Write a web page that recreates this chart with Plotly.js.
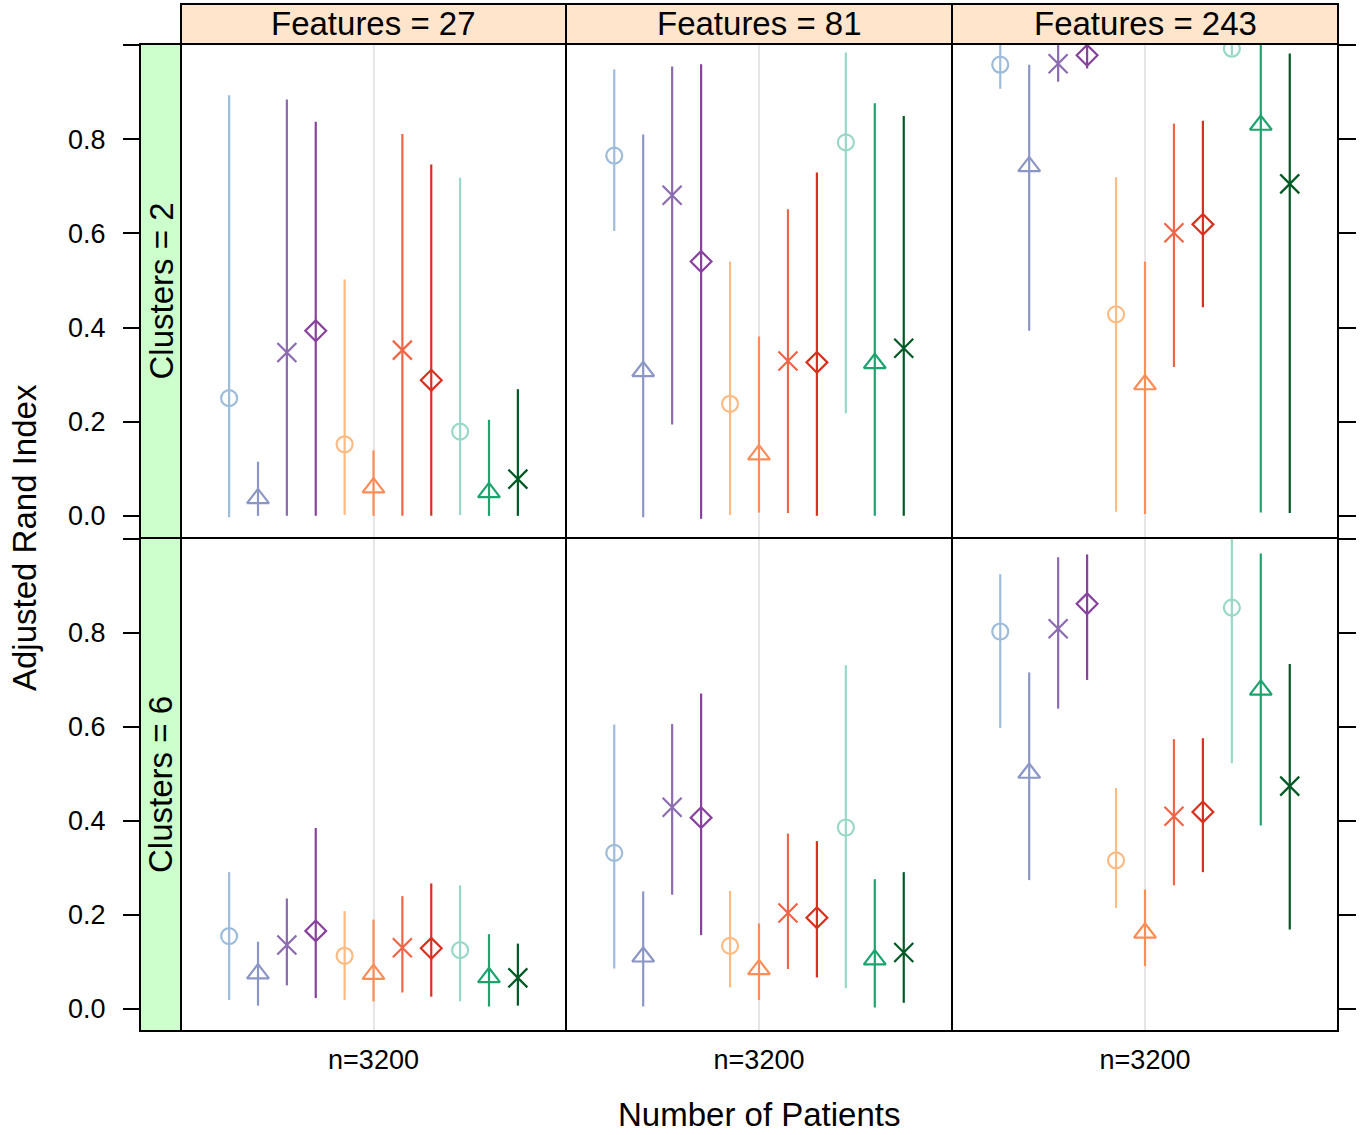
<!DOCTYPE html>
<html>
<head>
<meta charset="utf-8">
<script src="https://cdn.plot.ly/plotly-3.0.1.min.js"></script>
<style>html,body{margin:0;padding:0;background:#fff;}#chart{width:1362px;height:1135px;}</style>
</head>
<body>
<div id="chart"></div>
<script>
// ---- categories / labels ----
const featureLevels = ['Features = 27', 'Features = 81', 'Features = 243'];
const clusterLevels = ['Clusters = 2', 'Clusters = 6'];
const xTickLabels = ['n=3200'];
const methods = ['M1', 'M2', 'M3', 'M4', 'M5', 'M6', 'M7', 'M8', 'M9', 'M10', 'M11'];

// ---- Clusters = 2 ----
const mid_c2_f27 = [0.250, 0.037, 0.347, 0.393, 0.152, 0.060, 0.352, 0.288, 0.179, 0.050, 0.078];
const lo_c2_f27  = [-0.003, 0.000, 0.000, 0.000, 0.002, 0.000, 0.000, 0.000, 0.002, 0.000, 0.000];
const hi_c2_f27  = [0.893, 0.115, 0.884, 0.837, 0.502, 0.139, 0.811, 0.746, 0.718, 0.204, 0.269];

const mid_c2_f81 = [0.765, 0.307, 0.681, 0.540, 0.238, 0.130, 0.329, 0.326, 0.793, 0.324, 0.356];
const lo_c2_f81  = [0.605, -0.003, 0.194, -0.006, 0.002, 0.007, 0.006, 0.000, 0.218, 0.000, 0.000];
const hi_c2_f81  = [0.948, 0.810, 0.954, 0.959, 0.540, 0.381, 0.651, 0.729, 0.984, 0.876, 0.849];

const mid_c2_f243 = [0.958, 0.742, 0.960, 0.978, 0.428, 0.279, 0.601, 0.619, 0.992, 0.830, 0.705];
const lo_c2_f243  = [0.907, 0.393, 0.922, 0.950, 0.009, 0.004, 0.316, 0.443, 0.978, 0.007, 0.006];
const hi_c2_f243  = [1.000, 0.958, 1.000, 1.000, 0.719, 0.540, 0.833, 0.839, 1.000, 1.000, 0.982];

// ---- Clusters = 6 ----
const mid_c6_f27 = [0.155, 0.075, 0.136, 0.166, 0.113, 0.074, 0.130, 0.129, 0.125, 0.067, 0.066];
const lo_c6_f27  = [0.019, 0.007, 0.050, 0.023, 0.019, 0.016, 0.035, 0.026, 0.016, 0.005, 0.007];
const hi_c6_f27  = [0.291, 0.143, 0.235, 0.385, 0.208, 0.190, 0.240, 0.267, 0.263, 0.159, 0.139];

const mid_c6_f81 = [0.332, 0.111, 0.429, 0.407, 0.134, 0.084, 0.204, 0.194, 0.386, 0.105, 0.120];
const lo_c6_f81  = [0.086, 0.005, 0.243, 0.157, 0.046, 0.019, 0.085, 0.067, 0.044, 0.003, 0.013];
const hi_c6_f81  = [0.605, 0.250, 0.606, 0.671, 0.251, 0.182, 0.373, 0.357, 0.731, 0.276, 0.291];

const mid_c6_f243 = [0.803, 0.502, 0.809, 0.862, 0.316, 0.162, 0.410, 0.419, 0.854, 0.679, 0.474];
const lo_c6_f243  = [0.598, 0.274, 0.639, 0.700, 0.215, 0.091, 0.263, 0.291, 0.523, 0.390, 0.169];
const hi_c6_f243  = [0.925, 0.716, 0.961, 0.967, 0.470, 0.254, 0.574, 0.576, 1.000, 0.969, 0.734];

const yTickVals = [0, 0.2, 0.4, 0.6, 0.8, 1.0];
const yTickText = ['0.0', '0.2', '0.4', '0.6', '0.8', ''];

// ---- styles ----
const colors = ['#9EBCDA', '#8C96C6', '#8C6BB1', '#88419D',
                '#FDBB84', '#FC8D59', '#EF6548', '#D7301F',
                '#99D8C9', '#1FA36E', '#005824'];
const symbols = ['circle-open', 'triangle-up-open', 'x-thin-open', 'diamond-open',
                 'circle-open', 'triangle-up-open', 'x-thin-open', 'diamond-open',
                 'circle-open', 'triangle-up-open', 'x-thin-open'];
const symSize = {'circle-open': 16, 'triangle-up-open': 19, 'x-thin-open': 19, 'diamond-open': 16};

const panels = [
  [ {mid: mid_c2_f27, lo: lo_c2_f27, hi: hi_c2_f27},
    {mid: mid_c2_f81, lo: lo_c2_f81, hi: hi_c2_f81},
    {mid: mid_c2_f243, lo: lo_c2_f243, hi: hi_c2_f243} ],
  [ {mid: mid_c6_f27, lo: lo_c6_f27, hi: hi_c6_f27},
    {mid: mid_c6_f81, lo: lo_c6_f81, hi: hi_c6_f81},
    {mid: mid_c6_f243, lo: lo_c6_f243, hi: hi_c6_f243} ]
];

const W = 1362, H = 1135;
const px = v => v / W;
const py = v => 1 - v / H;
const colX = [[181, 566], [566, 952], [952, 1338]];
const rowY = [[44, 538], [538, 1031]];
const stripTop = 4, stripLeft = 140;
const DODGE = 0.09;
const FONT = '"Liberation Sans", Arial, Helvetica, sans-serif';

const traces = [];
const layout = {
  width: W, height: H,
  margin: {l: 0, r: 0, t: 0, b: 0},
  paper_bgcolor: '#ffffff', plot_bgcolor: '#ffffff',
  showlegend: false,
  font: {family: FONT, color: '#000', size: 27},
  shapes: [], annotations: []
};

for (let r = 0; r < 2; r++) {
  for (let c = 0; c < 3; c++) {
    const k = r * 3 + c + 1;
    const xa = 'x' + (k === 1 ? '' : k), ya = 'y' + (k === 1 ? '' : k);
    const d = panels[r][c];
    methods.forEach((m, i) => {
      traces.push({
        type: 'scatter', mode: 'markers', name: m,
        xaxis: xa, yaxis: ya,
        x: [1 + (i - 5) * DODGE],
        y: [d.mid[i]],
        error_y: {type: 'data', symmetric: false,
                  array: [d.hi[i] - d.mid[i]], arrayminus: [d.mid[i] - d.lo[i]],
                  width: 0, thickness: 2.2, color: colors[i]},
        marker: {symbol: symbols[i], size: symSize[symbols[i]], color: colors[i],
                 line: {color: colors[i], width: 2.2}},
        cliponaxis: true,
        hoverinfo: 'skip'
      });
    });
    layout['xaxis' + (k === 1 ? '' : k)] = {
      domain: [px(colX[c][0]), px(colX[c][1])],
      range: [0.4, 1.6], anchor: ya,
      tickmode: 'array', tickvals: [1], ticktext: xTickLabels,
      showticklabels: r === 1, ticks: '', ticklabelstandoff: 10,
      tickfont: {size: 27},
      showgrid: true, gridcolor: '#e6e6e6', gridwidth: 2,
      zeroline: false, showline: false, fixedrange: true
    };
    const yax = {
      domain: [py(rowY[r][1]), py(rowY[r][0])],
      range: [-0.047, 1.002],
      tickmode: 'array', tickvals: yTickVals, ticktext: yTickText,
      showgrid: false, zeroline: false, showline: false, fixedrange: true,
      tickfont: {size: 27}
    };
    if (c === 0) {
      Object.assign(yax, {anchor: 'free', position: px(stripLeft), side: 'left',
        ticks: 'outside', ticklen: 17, tickwidth: 2, tickcolor: '#000',
        showticklabels: true, ticklabelstandoff: 12});
    } else if (c === 2) {
      Object.assign(yax, {anchor: 'free', position: px(colX[2][1]), side: 'right',
        ticks: 'outside', ticklen: 17, tickwidth: 2, tickcolor: '#000',
        showticklabels: false});
    } else {
      Object.assign(yax, {anchor: xa, ticks: '', showticklabels: false});
    }
    layout['yaxis' + (k === 1 ? '' : k)] = yax;

    // panel border
    layout.shapes.push({type: 'rect', xref: 'paper', yref: 'paper', layer: 'above',
      x0: px(colX[c][0]), x1: px(colX[c][1]), y0: py(rowY[r][1]), y1: py(rowY[r][0]),
      line: {color: '#000', width: 2}, fillcolor: 'rgba(0,0,0,0)'});
  }
}

// top strips
featureLevels.forEach((lab, c) => {
  layout.shapes.push({type: 'rect', xref: 'paper', yref: 'paper', layer: 'above',
    x0: px(colX[c][0]), x1: px(colX[c][1]), y0: py(rowY[0][0]), y1: py(stripTop),
    line: {color: '#000', width: 2}, fillcolor: '#FFE5CC'});
  layout.annotations.push({xref: 'paper', yref: 'paper', showarrow: false,
    x: px((colX[c][0] + colX[c][1]) / 2), y: py((stripTop + rowY[0][0]) / 2),
    xanchor: 'center', yanchor: 'middle', text: lab, font: {size: 33, color: '#000'}});
});
// left strips
clusterLevels.forEach((lab, r) => {
  layout.shapes.push({type: 'rect', xref: 'paper', yref: 'paper', layer: 'above',
    x0: px(stripLeft), x1: px(colX[0][0]), y0: py(rowY[r][1]), y1: py(rowY[r][0]),
    line: {color: '#000', width: 2}, fillcolor: '#CCFFCC'});
  layout.annotations.push({xref: 'paper', yref: 'paper', showarrow: false,
    x: px((stripLeft + colX[0][0]) / 2), y: py((rowY[r][0] + rowY[r][1]) / 2),
    xanchor: 'center', yanchor: 'middle', textangle: -90, text: lab,
    font: {size: 33, color: '#000'}});
});
// axis titles
layout.annotations.push({xref: 'paper', yref: 'paper', showarrow: false,
  x: px(759), y: py(1114), xanchor: 'center', yanchor: 'middle',
  text: 'Number of Patients', font: {size: 33, color: '#000'}});
layout.annotations.push({xref: 'paper', yref: 'paper', showarrow: false,
  x: px(24), y: py(538), xanchor: 'center', yanchor: 'middle', textangle: -90,
  text: 'Adjusted Rand Index', font: {size: 33, color: '#000'}});

Plotly.newPlot('chart', traces, layout, {displayModeBar: false, staticPlot: true});
</script>
</body>
</html>
